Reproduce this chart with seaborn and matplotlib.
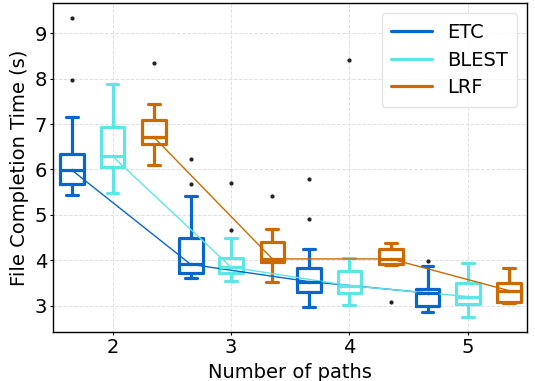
import matplotlib
matplotlib.use("Agg")
import matplotlib.pyplot as plt
import seaborn as sns
import pandas as pd
from matplotlib.lines import Line2D

paths = [2, 3, 4, 5]
series = ["ETC", "BLEST", "LRF"]
colors = {"ETC": "#0866cc", "BLEST": "#5ee5e5", "LRF": "#cc6a00"}

# box statistics: whisker low, Q1, median, Q3, whisker high
etc_whislo = [5.43, 3.60, 2.98, 2.87]
etc_q1 = [5.69, 3.71, 3.31, 3.00]
etc_med = [5.98, 3.91, 3.53, 3.28]
etc_q3 = [6.33, 4.48, 3.82, 3.37]
etc_whishi = [7.15, 5.41, 4.24, 3.88]
etc_fliers = [[9.33, 7.97], [6.24, 5.69], [5.80, 4.90], [3.99]]

blest_whislo = [5.49, 3.55, 3.02, 2.76]
blest_q1 = [6.05, 3.72, 3.29, 3.04]
blest_med = [6.29, 3.85, 3.44, 3.20]
blest_q3 = [6.93, 4.04, 3.77, 3.49]
blest_whishi = [7.88, 4.48, 4.06, 3.95]
blest_fliers = [[], [5.71, 4.66], [8.41], []]

lrf_whislo = [6.09, 3.53, 3.90, 3.06]
lrf_q1 = [6.57, 3.97, 3.92, 3.08]
lrf_med = [6.71, 4.03, 4.03, 3.33]
lrf_q3 = [7.08, 4.41, 4.24, 3.49]
lrf_whishi = [7.44, 4.68, 4.39, 3.84]
lrf_fliers = [[8.34], [5.41], [3.09], []]

stats = {
    "ETC": (etc_whislo, etc_q1, etc_med, etc_q3, etc_whishi, etc_fliers),
    "BLEST": (blest_whislo, blest_q1, blest_med, blest_q3, blest_whishi, blest_fliers),
    "LRF": (lrf_whislo, lrf_q1, lrf_med, lrf_q3, lrf_whishi, lrf_fliers),
}
offsets = {"ETC": -0.34, "BLEST": 0.0, "LRF": 0.35}

sns.set_style("white")
plt.rcParams["font.family"] = ["DejaVu Sans"]
plt.rcParams["text.color"] = "black"
plt.rcParams["axes.labelcolor"] = "black"
plt.rcParams["xtick.color"] = "black"
plt.rcParams["ytick.color"] = "black"

fig = plt.figure(figsize=(5.35, 3.81), dpi=100)
ax = fig.add_axes([0.0996, 0.1286, 0.8855, 0.8627])

rows = []
for s in series:
    wl, q1, md, q3, wh, fl = stats[s]
    c = colors[s]
    bx = []
    for i in range(len(paths)):
        bx.append(dict(whislo=wl[i], q1=q1[i], med=md[i], q3=q3[i], whishi=wh[i],
                       fliers=fl[i]))
    pos = [p + offsets[s] for p in paths]
    ax.bxp(bx, positions=pos, widths=0.2, showfliers=True, manage_ticks=False,
           boxprops=dict(color=c, linewidth=2.3),
           medianprops=dict(color=c, linewidth=2.3),
           whiskerprops=dict(color=c, linewidth=2.3),
           capprops=dict(color=c, linewidth=2.3),
           flierprops=dict(marker="o", markersize=2, markerfacecolor="#222222",
                           markeredgecolor="#222222"))
    for p, m in zip(pos, md):
        rows.append(dict(x=p, y=m, series=s))

df = pd.DataFrame(rows)
sns.lineplot(data=df, x="x", y="y", hue="series", palette=colors, linewidth=1.0,
             marker="o", markersize=2.5, markeredgewidth=0, ax=ax, legend=False,
             estimator=None, sort=False)

ax.set_xlim(1.5, 5.5)
ax.set_ylim(2.42, 9.66)
ax.set_xticks(paths)
ax.set_yticks([3, 4, 5, 6, 7, 8, 9])
ax.tick_params(labelsize=14, length=2.5, width=0.8, pad=2, direction="out",
               bottom=True, left=True, colors="black")
ax.grid(True, linestyle="--", color="#e0e0e0", linewidth=0.7)
ax.set_axisbelow(True)
for sp in ax.spines.values():
    sp.set_color("black")
    sp.set_linewidth(1.0)
ax.set_xlabel("Number of paths", fontsize=14, color="black")
ax.set_ylabel("File Completion Time (s)", fontsize=14, color="black")

handles = [Line2D([0], [0], color=colors[s], linewidth=2.3) for s in series]
leg = ax.legend(handles, series, loc="upper right", fontsize=14, frameon=True,
                edgecolor="#dddddd", handlelength=2.1, handletextpad=0.75,
                borderpad=0.5, labelspacing=0.45)
for t in leg.get_texts():
    t.set_color("black")

fig.savefig("out.png", dpi=100)
